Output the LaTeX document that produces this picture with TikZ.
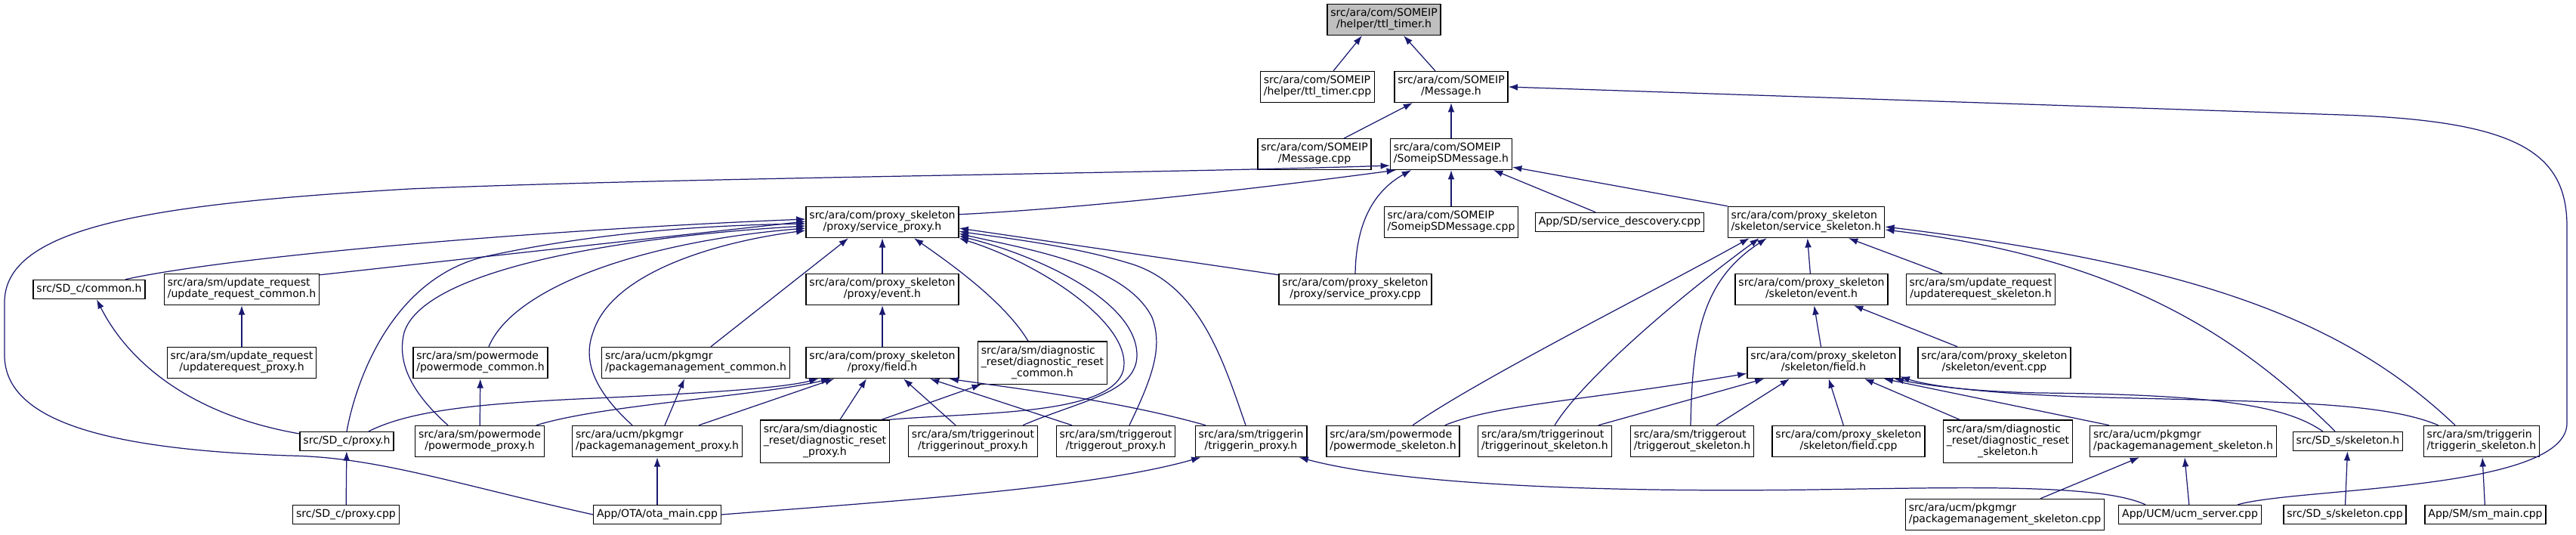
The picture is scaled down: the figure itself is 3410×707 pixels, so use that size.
\documentclass[tikz,border=0pt]{standalone}
\usepackage{fontspec}
\setmainfont{DejaVu Sans}
\usetikzlibrary{arrows.meta,calc}
\definecolor{edgeblue}{RGB}{25,25,112}
\definecolor{rootgray}{RGB}{191,191,191}
% labels: first lines left-justified, last line centred
\newcommand{\twol}[2]{\begin{tabular}{@{}l@{}}#1\\\multicolumn{1}{@{}c@{}}{#2}\end{tabular}}
\newcommand{\threel}[3]{\begin{tabular}{@{}l@{}}#1\\#2\\\multicolumn{1}{@{}c@{}}{#3}\end{tabular}}

\begin{document}
\begin{tikzpicture}[
  x=0.02cm, y=-0.02cm,
  filebox/.style={rectangle, draw=black, fill=white, line width=0.7pt,
    font=\fontsize{8}{8.2}\selectfont, inner xsep=2.5pt, inner ysep=3.2pt},
  arrow/.style={->, >={Latex[length=7pt,width=5pt]}, draw=edgeblue, line width=0.7pt}
]
  \useasboundingbox (0,0) rectangle (3410,707);

  % Root header
  \node[filebox, fill=rootgray] (ttlh) at (1832,26) {\twol{src/ara/com/SOMEIP}{/helper/ttl\_timer.h}};

  % SOMEIP message layer
  \node[filebox] (ttlcpp) at (1744,115) {\twol{src/ara/com/SOMEIP}{/helper/ttl\_timer.cpp}};
  \node[filebox] (msgh) at (1921,115) {\twol{src/ara/com/SOMEIP}{/Message.h}};
  \node[filebox] (msgcpp) at (1740,204) {\twol{src/ara/com/SOMEIP}{/Message.cpp}};
  \node[filebox] (sdmsgh) at (1921,204) {\twol{src/ara/com/SOMEIP}{/SomeipSDMessage.h}};

  % Row 4
  \node[filebox] (sproxyh) at (1168,294) {\twol{src/ara/com/proxy\_skeleton}{/proxy/service\_proxy.h}};
  \node[filebox] (sdmsgcpp) at (1921,294) {\twol{src/ara/com/SOMEIP}{/SomeipSDMessage.cpp}};
  \node[filebox] (sdisc) at (2144,294) {App/SD/service\_descovery.cpp};
  \node[filebox] (sskelh) at (2391,294) {\twol{src/ara/com/proxy\_skeleton}{/skeleton/service\_skeleton.h}};

  % Row 5
  \node[filebox] (sdccommon) at (118,383) {src/SD\_c/common.h};
  \node[filebox] (updcommon) at (320,383) {\twol{src/ara/sm/update\_request}{/update\_request\_common.h}};
  \node[filebox] (pevent) at (1168,383) {\twol{src/ara/com/proxy\_skeleton}{/proxy/event.h}};
  \node[filebox] (sproxycpp) at (1794,383) {\twol{src/ara/com/proxy\_skeleton}{/proxy/service\_proxy.cpp}};
  \node[filebox] (sevent) at (2398,383) {\twol{src/ara/com/proxy\_skeleton}{/skeleton/event.h}};
  \node[filebox] (updskel) at (2622,383) {\twol{src/ara/sm/update\_request}{/updaterequest\_skeleton.h}};

  % Row 6
  \node[filebox] (updproxy) at (320,480) {\twol{src/ara/sm/update\_request}{/updaterequest\_proxy.h}};
  \node[filebox] (pmcommon) at (636,480) {\twol{src/ara/sm/powermode}{/powermode\_common.h}};
  \node[filebox] (pkgcommon) at (921,480) {\twol{src/ara/ucm/pkgmgr}{/packagemanagement\_common.h}};
  \node[filebox] (pfield) at (1168,480) {\twol{src/ara/com/proxy\_skeleton}{/proxy/field.h}};
  \node[filebox] (diagcommon) at (1380,480) {\threel{src/ara/sm/diagnostic}{\_reset/diagnostic\_reset}{\_common.h}};
  \node[filebox] (sfield) at (2414,480) {\twol{src/ara/com/proxy\_skeleton}{/skeleton/field.h}};
  \node[filebox] (seventcpp) at (2640,480) {\twol{src/ara/com/proxy\_skeleton}{/skeleton/event.cpp}};

  % Row 7 -- proxy side
  \node[filebox] (sdcproxy) at (459,584) {src/SD\_c/proxy.h};
  \node[filebox] (pmproxy) at (635,584) {\twol{src/ara/sm/powermode}{/powermode\_proxy.h}};
  \node[filebox] (pkgproxy) at (870,584) {\twol{src/ara/ucm/pkgmgr}{/packagemanagement\_proxy.h}};
  \node[filebox] (diagproxy) at (1092,584) {\threel{src/ara/sm/diagnostic}{\_reset/diagnostic\_reset}{\_proxy.h}};
  \node[filebox] (tioproxy) at (1288,584) {\twol{src/ara/sm/triggerinout}{/triggerinout\_proxy.h}};
  \node[filebox] (toproxy) at (1477,584) {\twol{src/ara/sm/triggerout}{/triggerout\_proxy.h}};
  \node[filebox] (tiproxy) at (1656,584) {\twol{src/ara/sm/triggerin}{/triggerin\_proxy.h}};

  % Row 7 -- skeleton side
  \node[filebox] (pmskel) at (1844,584) {\twol{src/ara/sm/powermode}{/powermode\_skeleton.h}};
  \node[filebox] (tioskel) at (2045,584) {\twol{src/ara/sm/triggerinout}{/triggerinout\_skeleton.h}};
  \node[filebox] (toskel) at (2240,584) {\twol{src/ara/sm/triggerout}{/triggerout\_skeleton.h}};
  \node[filebox] (sfieldcpp) at (2447,584) {\twol{src/ara/com/proxy\_skeleton}{/skeleton/field.cpp}};
  \node[filebox] (diagskel) at (2658,584) {\threel{src/ara/sm/diagnostic}{\_reset/diagnostic\_reset}{\_skeleton.h}};
  \node[filebox] (pkgskel) at (2890,584) {\twol{src/ara/ucm/pkgmgr}{/packagemanagement\_skeleton.h}};
  \node[filebox] (sdsskel) at (3108,584) {src/SD\_s/skeleton.h};
  \node[filebox] (tiskel) at (3285,584) {\twol{src/ara/sm/triggerin}{/triggerin\_skeleton.h}};

  % Bottom row
  \node[filebox] (sdcproxycpp) at (458,681) {src/SD\_c/proxy.cpp};
  \node[filebox] (otamain) at (870,681) {App/OTA/ota\_main.cpp};
  \node[filebox] (pkgskelcpp) at (2654,681) {\twol{src/ara/ucm/pkgmgr}{/packagemanagement\_skeleton.cpp}};
  \node[filebox] (ucm) at (2899,681) {App/UCM/ucm\_server.cpp};
  \node[filebox] (sdsskelcpp) at (3104,681) {src/SD\_s/skeleton.cpp};
  \node[filebox] (smmain) at (3290,681) {App/SM/sm\_main.cpp};

  % SOMEIP chain
  \draw[arrow] ($(ttlcpp.north)+(21,0)$) -- ($(ttlh.south)+(-29,0)$);
  \draw[arrow] ($(msgh.north)+(-21,0)$) -- ($(ttlh.south)+(26,0)$);
  \draw[arrow] ($(msgcpp.north)+(39,0)$) -- ($(msgh.south)+(-51,0)$);
  \draw[arrow] (sdmsgh) -- (msgh);
  \draw[arrow] ($(ucm.north)+(63,0)$) .. controls (3040,645) and (3398,650) .. (3398,560)
    -- (3398,300) .. controls (3398,200) and (3330,160) .. (3100,152) -- (msgh.east);

  % SomeipSDMessage.h includers
  \draw[arrow] ($(sproxyh.north east)+(0,11)$) .. controls (1450,275) and (1700,245) .. ($(sdmsgh.south west)+(8,0)$);
  \draw[arrow] (otamain.west) .. controls (600,640) and (500,605) .. (383,603)
    .. controls (150,595) and (6,560) .. (6,470) -- (6,400)
    .. controls (6,300) and (200,270) .. (542,250)
    .. controls (900,235) and (1500,230) .. ($(sdmsgh.south west)+(0,-6)$);
  \draw[arrow] (sdmsgcpp) -- (sdmsgh);
  \draw[arrow] (sproxycpp.north) .. controls (1795,300) and (1815,255) .. ($(sdmsgh.south)+(-53,0)$);
  \draw[arrow] ($(sdisc.north)+(-32,0)$) -- ($(sdmsgh.south)+(56,0)$);
  \draw[arrow] (sskelh.north west) -- ($(sdmsgh.south east)+(0,-4)$);

  % service_proxy.h includers, left
  \draw[arrow] ($(sdccommon.north)+(48,0)$) .. controls (300,340) and (700,305) .. ($(sproxyh.west)+(0,-4)$);
  \draw[arrow] ($(updcommon.north east)+(0,2)$) -- ($(sproxyh.west)+(0,-1)$);
  \draw[arrow] (sdcproxy.north) .. controls (472,500) and (520,370) .. (640,340)
    .. controls (800,305) and (950,298) .. ($(sproxyh.west)+(0,2)$);
  \draw[arrow] ($(pmproxy.north)+(-42,0)$) .. controls (545,520) and (525,480) .. (535,440)
    .. controls (560,360) and (800,315) .. ($(sproxyh.west)+(0,5)$);
  \draw[arrow] ($(pmcommon.north)+(11,0)$) .. controls (680,380) and (850,320) .. ($(sproxyh.west)+(0,8)$);
  \draw[arrow] ($(pkgproxy.north)+(-33,0)$) .. controls (790,520) and (770,480) .. (785,440)
    .. controls (810,360) and (950,320) .. ($(sproxyh.west)+(0,11)$);
  \draw[arrow] ($(pkgcommon.north)+(20,0)$) -- ($(sproxyh.south)+(-45,0)$);
  \draw[arrow] (pevent) -- (sproxyh);
  \draw[arrow] ($(diagcommon.north)+(-19,0)$) .. controls (1330,400) and (1260,350) .. ($(sproxyh.south)+(42,0)$);

  % service_proxy.h includers, right
  \draw[arrow] (diagproxy.north east) .. controls (1300,545) and (1470,550) .. (1487,490)
    .. controls (1500,430) and (1380,350) .. (sproxyh.south east);
  \draw[arrow] ($(tioproxy.north)+(66,0)$) .. controls (1430,530) and (1505,520) .. (1505,470)
    .. controls (1505,400) and (1380,340) .. ($(sproxyh.south east)+(0,-3)$);
  \draw[arrow] ($(toproxy.north)+(18,0)$) .. controls (1525,500) and (1540,460) .. (1525,420)
    .. controls (1490,350) and (1360,330) .. ($(sproxyh.south east)+(0,-6)$);
  \draw[arrow] ($(tiproxy.north)+(-7,0)$) .. controls (1620,480) and (1590,380) .. (1500,350)
    .. controls (1420,325) and (1330,315) .. ($(sproxyh.south east)+(0,-9)$);
  \draw[arrow] ($(sproxycpp.north west)+(0,2)$) -- ($(sproxyh.east)+(0,8)$);

  % proxy headers
  \draw[arrow] (pfield) -- (pevent);
  \draw[arrow] ($(sdcproxy.north)+(29,0)$) .. controls (540,545) and (620,535) .. (765,528)
    .. controls (900,522) and (1030,515) .. ($(pfield.south west)+(17,0)$);
  \draw[arrow] ($(pmproxy.north east)+(-11,0)$) .. controls (800,535) and (1000,525) .. ($(pfield.south west)+(33,0)$);
  \draw[arrow] ($(pkgproxy.north)+(55,0)$) -- ($(pfield.south west)+(38,0)$);
  \draw[arrow] ($(diagproxy.north)+(20,0)$) -- ($(pfield.south)+(-21,0)$);
  \draw[arrow] ($(tioproxy.north)+(-23,0)$) -- ($(pfield.south)+(28,0)$);
  \draw[arrow] ($(toproxy.north)+(-58,0)$) -- ($(pfield.south)+(63,0)$);
  \draw[arrow] ($(tiproxy.north)+(-60,0)$) .. controls (1480,530) and (1350,515) .. ($(pfield.south east)+(-13,0)$);
  \draw[arrow] ($(diagproxy.north east)+(-11,0)$) -- ($(diagcommon.south west)+(5,0)$);
  \draw[arrow] (pmproxy) -- (pmcommon);
  \draw[arrow] ($(pkgproxy.north)+(10,0)$) -- ($(pkgcommon.south)+(-15,0)$);
  \draw[arrow] (updproxy) -- (updcommon);
  \draw[arrow] ($(sdcproxy.west)+(0,-10)$) .. controls (230,545) and (160,460) .. ($(sdccommon.south)+(10,0)$);
  \draw[arrow] (sdcproxycpp) -- (sdcproxy);
  \draw[arrow] (otamain) -- (pkgproxy);
  \draw[arrow] (otamain.east) .. controls (1200,662) and (1450,645) .. ($(tiproxy.south west)+(8,0)$);
  \draw[arrow] ($(ucm.north west)+(36,0)$) .. controls (2780,640) and (2600,645) .. (2400,648)
    .. controls (2100,652) and (1850,640) .. ($(tiproxy.south east)+(-11,0)$);

  % service_skeleton.h includers
  \draw[arrow] ($(pmskel.north)+(26,0)$) .. controls (1960,500) and (2200,380) .. ($(sskelh.south west)+(29,0)$);
  \draw[arrow] ($(tioskel.north)+(13,0)$) .. controls (2090,510) and (2200,410) .. ($(sskelh.south west)+(42,0)$);
  \draw[arrow] ($(toskel.north)+(-2,0)$) .. controls (2240,440) and (2255,370) .. ($(sskelh.south west)+(52,0)$);
  \draw[arrow] (sevent) -- (sskelh);
  \draw[arrow] ($(updskel.north)+(-51,0)$) -- ($(sskelh.south)+(56,0)$);
  \draw[arrow] ($(sdsskel.north)+(-17,0)$) .. controls (2960,440) and (2800,340) .. ($(sskelh.east)+(0,10)$);
  \draw[arrow] ($(tiskel.north)+(-35,0)$) .. controls (3100,420) and (2900,350) .. ($(sskelh.east)+(0,6)$);

  % skeleton headers
  \draw[arrow] (sfield) -- (sevent);
  \draw[arrow] ($(seventcpp.north)+(-49,0)$) -- ($(sevent.south)+(56,0)$);
  \draw[arrow] ($(pmskel.north east)+(-20,0)$) .. controls (1980,535) and (2100,530) .. ($(sfield.south west)+(0,-7)$);
  \draw[arrow] ($(tioskel.north east)+(-18,0)$) -- ($(sfield.south west)+(23,0)$);
  \draw[arrow] ($(toskel.north)+(32,0)$) -- ($(sfield.south)+(-45,0)$);
  \draw[arrow] (sfieldcpp) -- (sfield);
  \draw[arrow] ($(diagskel.north)+(-64,0)$) -- ($(sfield.south)+(54,0)$);
  \draw[arrow] ($(pkgskel.north west)+(26,0)$) -- ($(sfield.south east)+(-22,0)$);
  \draw[arrow] ($(sdsskel.north west)+(40,0)$) .. controls (3030,540) and (2950,522) .. (2700,520)
    .. controls (2600,518) and (2540,508) .. ($(sfield.south east)+(-8,0)$);
  \draw[arrow] ($(tiskel.north west)+(20,0)$) .. controls (3150,530) and (3000,532) .. (2750,525)
    .. controls (2620,520) and (2550,510) .. ($(sfield.south east)+(0,-3)$);
  \draw[arrow] ($(pkgskelcpp.north)+(47,0)$) -- ($(pkgskel.south)+(-58,0)$);
  \draw[arrow] (ucm) -- (pkgskel);
  \draw[arrow] (sdsskelcpp) -- (sdsskel);
  \draw[arrow] (smmain) -- (tiskel);
\end{tikzpicture}
\end{document}
